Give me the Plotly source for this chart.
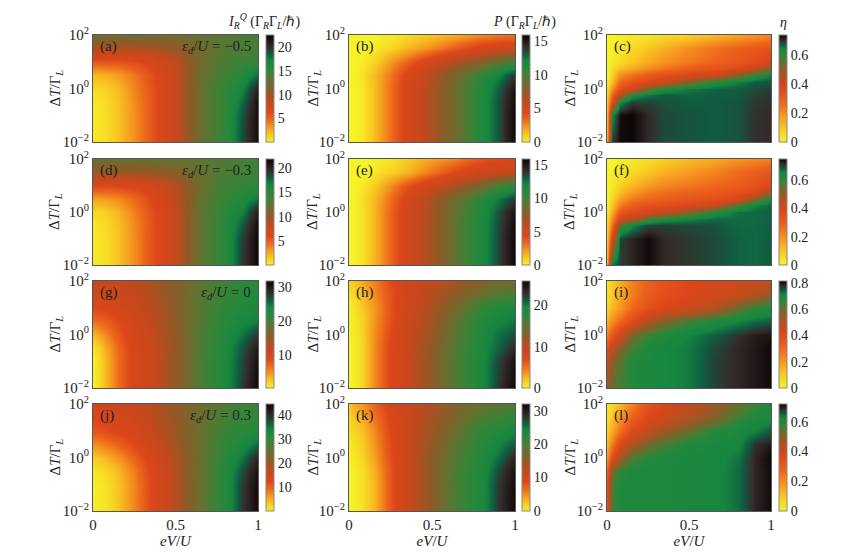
import plotly.graph_objects as go

# grid of the maps: eV/U along x, log10(dT/Gamma_L) along y
x_ev = [0, 0.03, 0.08, 0.15, 0.25, 0.35, 0.5, 0.65, 0.8, 0.9, 1.0]
y_logdt = [-2, -1, -0.5, 0, 0.5, 1, 1.5, 2]
y_logdt_fine = [-2, -1, -0.5, -0.25, 0, 0.25, 0.5, 0.75, 1, 1.5, 2]

# heat current I_R^Q, rows go from the bottom (y=-2) to the top (y=2)
I_a = [
    [0.5, 0.6, 0.9, 1.8, 3.5, 5.5, 8.5, 12.5, 15.0, 19.0, 22.0],
    [0.5, 0.6, 0.9, 1.8, 3.5, 5.5, 8.5, 12.5, 15.0, 18.8, 22.0],
    [0.6, 0.7, 1.0, 1.9, 3.6, 5.5, 8.5, 12.5, 15.0, 18.0, 21.8],
    [0.9, 1.0, 1.3, 2.1, 3.8, 5.6, 8.5, 12.5, 15.0, 17.0, 21.0],
    [2.2, 2.3, 2.5, 3.0, 4.3, 5.9, 8.6, 12.3, 14.5, 15.5, 18.0],
    [5.5, 5.5, 5.5, 5.6, 6.0, 6.8, 8.8, 12.0, 14.0, 14.5, 15.0],
    [9.5, 9.5, 9.5, 9.5, 9.6, 9.8, 10.5, 12.3, 13.5, 13.8, 14.0],
    [12.2, 12.2, 12.2, 12.2, 12.2, 12.2, 12.3, 12.8, 13.3, 13.7, 14.0],
]
I_d = [
    [0.5, 0.6, 0.9, 1.8, 3.5, 5.5, 8.5, 12.5, 15.0, 19.0, 21.8],
    [0.5, 0.6, 0.9, 1.8, 3.5, 5.5, 8.5, 12.5, 15.0, 18.8, 21.8],
    [0.6, 0.7, 1.0, 1.9, 3.6, 5.5, 8.5, 12.5, 15.0, 18.0, 21.5],
    [1.0, 1.1, 1.4, 2.2, 3.9, 5.7, 8.5, 12.5, 15.0, 16.8, 20.5],
    [2.8, 2.9, 3.0, 3.5, 4.6, 6.1, 8.7, 12.3, 14.5, 15.5, 17.5],
    [6.0, 6.0, 6.0, 6.1, 6.4, 7.1, 9.0, 12.0, 14.0, 14.5, 15.0],
    [10.0, 10.0, 10.0, 10.0, 10.0, 10.2, 10.8, 12.3, 13.5, 13.8, 14.0],
    [12.3, 12.3, 12.3, 12.3, 12.3, 12.3, 12.5, 12.9, 13.3, 13.7, 14.0],
]
I_g = [
    [0.3, 1.2, 3.2, 6.5, 10.0, 11.5, 15.0, 19.5, 23.0, 27.5, 31.5],
    [0.4, 1.3, 3.3, 6.5, 10.0, 11.5, 15.0, 19.5, 23.0, 27.0, 31.0],
    [1.0, 1.8, 3.8, 6.8, 10.0, 11.6, 15.0, 19.3, 23.0, 26.5, 30.0],
    [3.0, 3.8, 5.3, 7.8, 10.4, 12.0, 15.2, 19.2, 22.5, 25.0, 28.0],
    [6.5, 6.8, 7.5, 8.8, 10.8, 12.3, 15.3, 19.0, 22.0, 23.5, 24.5],
    [9.0, 9.2, 9.6, 10.5, 11.5, 12.8, 15.5, 19.0, 21.5, 22.5, 23.0],
    [11.0, 11.0, 11.2, 11.5, 12.2, 13.3, 15.8, 18.8, 21.0, 22.0, 22.5],
    [12.0, 12.0, 12.0, 12.2, 12.7, 13.8, 16.0, 18.5, 20.5, 21.5, 22.0],
]
I_j = [
    [0.5, 0.8, 1.5, 3.5, 7.5, 12.5, 18.5, 25.0, 31.0, 39.0, 44.0],
    [0.6, 0.9, 1.6, 3.6, 7.6, 12.6, 18.5, 25.0, 31.0, 38.5, 44.0],
    [1.2, 1.5, 2.2, 4.2, 8.0, 13.0, 18.7, 25.0, 31.0, 37.5, 43.0],
    [3.0, 3.5, 4.5, 6.5, 10.0, 14.0, 19.0, 24.8, 30.5, 35.0, 41.0],
    [7.0, 7.5, 8.5, 10.0, 12.5, 15.5, 19.8, 25.0, 30.0, 32.0, 36.0],
    [11.0, 11.3, 12.0, 13.0, 14.5, 16.5, 20.5, 25.0, 29.0, 30.5, 31.5],
    [13.0, 13.2, 13.8, 14.5, 15.8, 17.5, 21.0, 24.8, 28.0, 29.5, 30.5],
    [14.5, 14.6, 15.0, 15.5, 16.5, 18.0, 21.0, 24.5, 27.0, 28.5, 30.0],
]

# power P
P_b = [
    [0.0, 0.05, 0.3, 1.3, 3.2, 5.0, 6.8, 8.8, 11.3, 13.2, 15.8],
    [0.0, 0.05, 0.3, 1.3, 3.2, 5.0, 6.8, 8.8, 11.3, 13.2, 15.8],
    [0.0, 0.05, 0.3, 1.3, 3.2, 5.0, 6.8, 8.8, 11.3, 13.2, 15.6],
    [0.0, 0.05, 0.3, 1.3, 3.2, 5.0, 6.8, 8.8, 11.2, 13.0, 15.3],
    [0.0, 0.1, 0.4, 1.4, 3.0, 4.8, 6.5, 8.5, 10.8, 12.0, 14.0],
    [0.0, 0.05, 0.2, 0.8, 2.2, 3.5, 5.5, 6.8, 8.0, 9.2, 10.2],
    [0.0, 0.0, 0.05, 0.2, 0.8, 1.5, 2.5, 3.8, 5.0, 5.3, 5.5],
    [0.0, 0.0, 0.0, 0.05, 0.3, 0.6, 1.2, 1.8, 2.6, 2.9, 3.2],
]
P_e = [
    [0.0, 0.05, 0.4, 1.5, 3.5, 5.2, 7.0, 9.3, 11.5, 13.5, 15.8],
    [0.0, 0.05, 0.4, 1.5, 3.5, 5.2, 7.0, 9.3, 11.5, 13.5, 15.8],
    [0.0, 0.05, 0.4, 1.5, 3.5, 5.2, 7.0, 9.3, 11.5, 13.4, 15.6],
    [0.0, 0.05, 0.4, 1.5, 3.5, 5.2, 7.0, 9.2, 11.4, 13.2, 15.3],
    [0.0, 0.1, 0.5, 1.5, 3.2, 5.0, 6.8, 8.8, 11.0, 12.3, 14.0],
    [0.0, 0.05, 0.3, 1.0, 2.5, 4.0, 5.8, 7.0, 8.5, 10.0, 11.0],
    [0.0, 0.0, 0.1, 0.3, 0.9, 1.5, 3.0, 4.5, 5.5, 5.8, 6.0],
    [0.0, 0.0, 0.0, 0.1, 0.4, 1.0, 2.0, 2.8, 4.0, 4.3, 4.6],
]
P_h = [
    [0.0, 0.3, 1.2, 4.0, 7.5, 9.5, 12.5, 16.0, 19.0, 22.5, 25.8],
    [0.0, 0.3, 1.2, 4.0, 7.5, 9.5, 12.5, 16.0, 19.0, 22.0, 25.0],
    [0.0, 0.3, 1.2, 4.0, 7.5, 9.5, 12.3, 15.8, 18.8, 21.0, 23.5],
    [0.1, 0.4, 1.3, 3.9, 7.2, 9.3, 12.0, 15.5, 18.6, 20.5, 22.0],
    [0.2, 0.5, 1.4, 3.7, 6.8, 9.1, 11.5, 15.0, 18.3, 19.5, 20.3],
    [0.3, 0.7, 1.7, 3.6, 6.5, 9.0, 11.0, 14.0, 17.3, 18.3, 18.8],
    [0.8, 1.2, 2.3, 4.0, 6.6, 9.0, 10.6, 12.5, 14.5, 15.5, 16.0],
    [1.5, 2.0, 3.0, 4.5, 7.0, 9.0, 10.0, 11.5, 13.0, 13.6, 14.0],
]
P_k = [
    [0.0, 0.3, 1.0, 3.0, 8.0, 11.5, 15.5, 20.0, 23.0, 28.0, 31.8],
    [0.0, 0.3, 1.0, 3.0, 8.0, 11.5, 15.5, 20.0, 23.0, 27.8, 31.5],
    [0.1, 0.4, 1.1, 3.2, 8.1, 11.5, 15.5, 19.8, 23.0, 27.0, 31.0],
    [0.3, 0.6, 1.5, 4.0, 8.5, 11.5, 15.5, 19.5, 22.5, 25.5, 29.5],
    [0.6, 1.0, 2.0, 4.5, 8.8, 11.5, 15.0, 19.0, 22.0, 24.0, 26.5],
    [1.0, 1.5, 2.5, 5.0, 9.0, 11.5, 14.5, 18.0, 21.5, 22.5, 24.0],
    [1.5, 2.5, 3.5, 6.0, 9.5, 11.5, 14.0, 17.0, 19.5, 20.5, 21.5],
    [2.0, 3.5, 4.5, 7.0, 10.0, 11.5, 13.5, 16.0, 18.0, 18.8, 19.5],
]

# efficiency eta; (c) and (f) use the finer y grid
eta_c = [
    [0.15, 0.69, 0.735, 0.74, 0.705, 0.685, 0.68, 0.675, 0.68, 0.7, 0.705],
    [0.12, 0.63, 0.73, 0.74, 0.705, 0.685, 0.68, 0.675, 0.68, 0.7, 0.705],
    [0.1, 0.37, 0.64, 0.69, 0.69, 0.68, 0.675, 0.675, 0.68, 0.695, 0.7],
    [0.08, 0.28, 0.45, 0.62, 0.66, 0.675, 0.67, 0.675, 0.675, 0.69, 0.7],
    [0.05, 0.2, 0.35, 0.41, 0.54, 0.62, 0.655, 0.67, 0.675, 0.685, 0.69],
    [0.02, 0.12, 0.27, 0.33, 0.38, 0.42, 0.52, 0.61, 0.65, 0.675, 0.68],
    [0.0, 0.08, 0.2, 0.25, 0.31, 0.34, 0.38, 0.41, 0.52, 0.6, 0.655],
    [0.0, 0.05, 0.11, 0.15, 0.2, 0.24, 0.3, 0.33, 0.36, 0.42, 0.52],
    [0.0, 0.02, 0.06, 0.1, 0.15, 0.19, 0.24, 0.28, 0.32, 0.35, 0.4],
    [0.0, 0.01, 0.03, 0.06, 0.1, 0.14, 0.2, 0.25, 0.29, 0.31, 0.33],
    [0.0, 0.0, 0.01, 0.02, 0.03, 0.05, 0.08, 0.12, 0.16, 0.19, 0.22],
]
eta_f = [
    [0.15, 0.67, 0.7, 0.72, 0.745, 0.715, 0.705, 0.695, 0.68, 0.675, 0.685],
    [0.1, 0.4, 0.7, 0.72, 0.745, 0.715, 0.705, 0.695, 0.68, 0.675, 0.685],
    [0.07, 0.26, 0.57, 0.65, 0.695, 0.7, 0.695, 0.69, 0.675, 0.675, 0.68],
    [0.05, 0.2, 0.4, 0.46, 0.58, 0.63, 0.655, 0.675, 0.675, 0.675, 0.68],
    [0.03, 0.15, 0.32, 0.36, 0.4, 0.44, 0.52, 0.62, 0.67, 0.675, 0.68],
    [0.01, 0.1, 0.23, 0.3, 0.34, 0.35, 0.38, 0.42, 0.58, 0.655, 0.675],
    [0.0, 0.07, 0.17, 0.24, 0.28, 0.3, 0.33, 0.35, 0.4, 0.52, 0.64],
    [0.0, 0.05, 0.12, 0.18, 0.23, 0.26, 0.29, 0.31, 0.34, 0.38, 0.5],
    [0.0, 0.03, 0.08, 0.13, 0.18, 0.22, 0.25, 0.28, 0.3, 0.34, 0.4],
    [0.0, 0.01, 0.03, 0.06, 0.1, 0.14, 0.18, 0.22, 0.27, 0.3, 0.33],
    [0.0, 0.0, 0.01, 0.02, 0.05, 0.08, 0.12, 0.15, 0.19, 0.21, 0.23],
]
eta_i = [
    [0.55, 0.6, 0.64, 0.67, 0.69, 0.7, 0.72, 0.76, 0.78, 0.795, 0.81],
    [0.47, 0.56, 0.62, 0.67, 0.69, 0.7, 0.72, 0.76, 0.78, 0.795, 0.81],
    [0.38, 0.48, 0.57, 0.64, 0.68, 0.7, 0.72, 0.755, 0.78, 0.795, 0.81],
    [0.25, 0.35, 0.45, 0.58, 0.65, 0.68, 0.71, 0.74, 0.77, 0.79, 0.8],
    [0.15, 0.22, 0.3, 0.4, 0.5, 0.57, 0.64, 0.68, 0.71, 0.73, 0.74],
    [0.08, 0.14, 0.2, 0.3, 0.38, 0.42, 0.45, 0.5, 0.6, 0.66, 0.68],
    [0.05, 0.1, 0.16, 0.25, 0.33, 0.38, 0.42, 0.44, 0.46, 0.5, 0.55],
    [0.05, 0.1, 0.16, 0.25, 0.32, 0.37, 0.41, 0.43, 0.45, 0.46, 0.48],
]
eta_l = [
    [0.35, 0.57, 0.6, 0.6, 0.6, 0.605, 0.61, 0.615, 0.645, 0.69, 0.715],
    [0.33, 0.56, 0.6, 0.6, 0.6, 0.605, 0.61, 0.615, 0.645, 0.69, 0.715],
    [0.28, 0.52, 0.58, 0.6, 0.6, 0.605, 0.61, 0.615, 0.645, 0.69, 0.715],
    [0.18, 0.35, 0.47, 0.56, 0.59, 0.6, 0.61, 0.615, 0.64, 0.69, 0.72],
    [0.12, 0.22, 0.37, 0.45, 0.52, 0.56, 0.6, 0.61, 0.62, 0.68, 0.7],
    [0.08, 0.15, 0.25, 0.36, 0.42, 0.47, 0.53, 0.59, 0.61, 0.63, 0.66],
    [0.05, 0.1, 0.18, 0.28, 0.37, 0.4, 0.45, 0.5, 0.57, 0.6, 0.61],
    [0.03, 0.06, 0.12, 0.22, 0.32, 0.38, 0.42, 0.47, 0.53, 0.57, 0.6],
]

eps_labels = ["\u22120.5", "\u22120.3", "0", "0.3"]
panel_letters = ["a", "b", "c", "d", "e", "f", "g", "h", "i", "j", "k", "l"]
ytick_vals = [-2, 0, 2]
ytick_text = ["10<sup>\u22122</sup>", "10<sup>0</sup>", "10<sup>2</sup>"]

# colour ranges (zmin, zmax, colorbar step) per panel
ranges = [
    (0.1, 22.5, 5), (0, 15.9, 5), (0, 0.74, 0.2),
    (0.1, 21.9, 5), (0, 15.9, 5), (0, 0.75, 0.2),
    (0.2, 31.8, 10), (0, 25.9, 10), (0, 0.815, 0.2),
    (0.2, 44.6, 10), (0, 32.0, 10), (0, 0.72, 0.2),
]
maps = [I_a, P_b, eta_c, I_d, P_e, eta_f, I_g, P_h, eta_i, I_j, P_k, eta_l]
fine_y = {2, 5}

# yellow -> orange -> red -> brown -> green -> dark green -> black
scale_power = [
    [0.0, "#f6f428"], [0.07, "#f8c822"], [0.14, "#f5981f"], [0.21, "#ec661b"],
    [0.28, "#dc461a"], [0.38, "#c4481c"], [0.48, "#8c5c28"], [0.56, "#687030"],
    [0.64, "#3c8236"], [0.7, "#22893c"], [0.76, "#168440"], [0.82, "#0f5e42"],
    [0.89, "#342c2a"], [1.0, "#0c0505"],
]
scale_eta = [
    [0.0, "#f6f428"], [0.12, "#f8cc22"], [0.24, "#f79a20"], [0.38, "#ec621b"],
    [0.51, "#dc461a"], [0.62, "#b4501f"], [0.7, "#82622a"], [0.77, "#507a32"],
    [0.82, "#22893c"], [0.87, "#168640"], [0.91, "#0f5e42"], [0.95, "#342c2a"],
    [1.0, "#0c0505"],
]

W, H = 847, 560
col_px = [(85, 250), (341, 507), (599, 763)]
cbar_px = [258, 514, 771]
ytitle_px = [47, 305, 562]
row_px = [(27, 134), (151, 257), (273, 380), (396, 503)]

FONT = "Liberation Serif"
TXT = "#222222"

fig = go.Figure()
layout = dict(
    width=W, height=H,
    margin=dict(l=0, r=0, t=0, b=0, autoexpand=False),
    paper_bgcolor="white", plot_bgcolor="white",
    font=dict(family=FONT, size=15, color=TXT),
    showlegend=False,
)
annotations = []

for k, z in enumerate(maps):
    r, c = divmod(k, 3)
    n = k + 1
    xs = "" if n == 1 else str(n)
    zmin, zmax, step = ranges[k]
    x0, x1 = col_px[c]
    top, bot = row_px[r]
    ymid = 1 - (top + bot) / 2 / H

    fig.add_trace(go.Heatmap(
        x=x_ev, y=y_logdt_fine if k in fine_y else y_logdt, z=z,
        zmin=zmin, zmax=zmax, zsmooth="best",
        colorscale=scale_eta if c == 2 else scale_power,
        xaxis="x" + xs, yaxis="y" + xs,
        hoverinfo="skip",
        colorbar=dict(
            x=cbar_px[c] / W, xanchor="left", xpad=0,
            y=ymid, yanchor="middle", ypad=0,
            len=(bot - top) / H, lenmode="fraction",
            thickness=8, outlinewidth=1, outlinecolor="#888888",
            tick0=0, dtick=step, ticks="",
            tickfont=dict(family=FONT, size=14, color=TXT),
        ),
    ))

    layout["xaxis" + xs] = dict(
        domain=[x0 / W, x1 / W], anchor="y" + xs, range=[0, 1],
        automargin=False,
        showgrid=False, zeroline=False, showline=True, mirror=True,
        linecolor="#555555", linewidth=1, ticks="",
        tickvals=[0, 0.5, 1], ticktext=["0", "0.5", "1"],
        showticklabels=(r == 3),
        tickfont=dict(size=15),
        title=dict(text="<i>eV</i>/<i>U</i>", font=dict(size=15), standoff=2) if r == 3 else None,
    )
    layout["yaxis" + xs] = dict(
        domain=[1 - bot / H, 1 - top / H], anchor="x" + xs, range=[-2, 2],
        automargin=False,
        showgrid=False, zeroline=False, showline=True, mirror=True,
        linecolor="#555555", linewidth=1, ticks="",
        tickvals=ytick_vals, ticktext=ytick_text,
        tickfont=dict(size=15),
    )

    # y axis title placed beside each panel
    annotations.append(dict(
        text="\u0394<i>T</i>/\u0393<sub><i>L</i></sub>", textangle=-90,
        xref="paper", yref="paper", x=ytitle_px[c] / W, y=ymid,
        xanchor="center", yanchor="middle", showarrow=False,
        font=dict(size=15),
    ))
    annotations.append(dict(
        text="(%s)" % panel_letters[k], xref="x%s domain" % xs, yref="y%s domain" % xs,
        x=0.03, y=0.99, xanchor="left", yanchor="top", showarrow=False,
        font=dict(size=15),
    ))
    if c == 0:
        annotations.append(dict(
            text="<i>\u03b5<sub>d</sub></i>/<i>U</i> = " + eps_labels[r],
            xref="x%s domain" % xs, yref="y%s domain" % xs,
            x=0.97, y=0.99, xanchor="right", yanchor="top", showarrow=False,
            font=dict(size=15),
        ))

# colour bar titles above the first row
annotations.append(dict(
    text="<i>I</i><sub><i>R</i></sub><sup><i>Q</i></sup> (\u0393<sub><i>R</i></sub>\u0393<sub><i>L</i></sub>/\u210f)",
    xref="paper", yref="paper", x=294 / W, y=1 - 13 / H,
    xanchor="right", yanchor="middle", showarrow=False, font=dict(size=14),
))
annotations.append(dict(
    text="<i>P</i> (\u0393<sub><i>R</i></sub>\u0393<sub><i>L</i></sub>/\u210f)",
    xref="paper", yref="paper", x=550 / W, y=1 - 14 / H,
    xanchor="right", yanchor="middle", showarrow=False, font=dict(size=14),
))
annotations.append(dict(
    text="<i>\u03b7</i>", xref="paper", yref="paper", x=775 / W, y=1 - 14 / H,
    xanchor="center", yanchor="middle", showarrow=False, font=dict(size=14),
))

layout["annotations"] = annotations
fig.update_layout(**layout)

fig.write_html("out.html")
